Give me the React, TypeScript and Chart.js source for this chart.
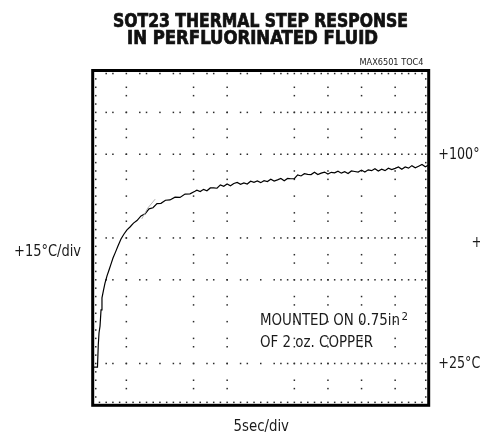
import React, { useEffect, useRef } from "react";
import { Chart, registerables } from "chart.js";

Chart.register(...registerables);

// ---------- data (seconds, °C) ----------
const timeSec = [
  0.12, 0.71, 0.83, 0.94, 1.09, 1.24, 1.38, 1.61, 1.83, 2.13, 2.43, 2.72, 3.02, 3.39, 3.76,
  4.21, 4.66, 5.1, 5.55, 6.07, 6.59, 7.19, 7.78, 8.38, 8.97, 9.57, 10.16, 10.83, 11.5, 12.25,
  12.99, 13.74, 14.48, 15.22,
  15.5, 16, 16.5, 17, 17.5, 18, 18.5, 19, 19.5, 20, 20.5, 21, 21.5, 22, 22.5, 23, 23.5, 24,
  24.5, 25, 25.5, 26, 26.5, 27, 27.5, 28, 28.5, 29, 29.5, 30, 30.5, 31, 31.5, 32, 32.5, 33,
  33.5, 34, 34.5, 35, 35.5, 36, 36.5, 37, 37.5, 38, 38.5, 39, 39.5, 40, 40.5, 41, 41.5, 42,
  42.5, 43, 43.5, 44, 44.5, 45, 45.5, 46, 46.5, 47, 47.5, 48, 48.5, 49, 49.5, 50,
];
const tempC = [
  23.7, 23.7, 31.6, 35.9, 38.4, 44.2, 48.5, 51.3, 53.8, 56.4, 58.5, 60.6, 62.8, 64.9, 67.1,
  69.6, 71.4, 72.9, 73.9, 75.3, 76.2, 77.9, 78.6, 80.4, 80.8, 82.3, 82.4, 83.5, 83.6, 84.6,
  84.5, 85.7, 85.8, 86.7,
  87.1, 86.6, 87.4, 86.9, 87.9, 87.9, 87.8, 89.0, 88.5, 89.3, 88.7, 89.5, 89.9, 89.2, 89.7,
  89.3, 90.3, 89.9, 90.4, 89.8, 90.5, 90.2, 91.0, 90.4, 90.8, 91.3, 90.5, 91.3, 91.2, 91.2,
  92.6, 92.2, 93.0, 92.8, 92.7, 93.5, 92.7, 93.2, 93.6, 92.9, 93.5, 93.3, 93.9, 93.2, 93.7,
  93.1, 94.0, 93.8, 93.6, 94.3, 93.6, 94.4, 94.1, 94.8, 94.0, 94.6, 94.1, 95.0, 94.5, 94.9,
  95.4, 94.6, 95.4, 95.0, 95.9, 95.1, 95.7, 96.3, 95.5, 96.1,
];
const ghostTimeSec = [7.3, 8.2, 9.3];
const ghostTempC = [76.8, 80.7, 83.9];

const xDivisions = [0, 5, 10, 15, 20, 25, 30, 35, 40, 45, 50];
const yDivisions = [10, 25, 40, 55, 70, 85, 100, 115, 130];
const hiddenXGrid = [10, 25];
const hiddenYGrid = [40, 85];

const titleLines = ["SOT23 THERMAL STEP RESPONSE", "IN PERFLUORINATED FLUID"];
const tocLabel = "MAX6501 TOC4";
const yScaleLabel = "+15°C/div";
const xScaleLabel = "5sec/div";
const rightLabelTexts = ["+100°C", "+25°C", "+70°C"];
const rightLabelValues = [100, 25, 70];
const noteLine1 = "MOUNTED ON 0.75in";
const noteSup = "2";
const noteLine2 = "OF 2 oz. COPPER";

const FONT =
  "'Liberation Sans Narrow', 'Arial Narrow', 'DejaVu Sans Condensed', 'Liberation Sans', sans-serif";

function fitText(
  ctx: CanvasRenderingContext2D,
  text: string,
  x: number,
  baseline: number,
  width: number,
  size: number,
  weight: string,
  align: "left" | "center" | "right",
  stroke = 0
): number {
  ctx.save();
  ctx.font = `${weight} ${size}px ${FONT}`;
  const w = ctx.measureText(text).width;
  const sx = width / w;
  const left = align === "left" ? x : align === "center" ? x - width / 2 : x - width;
  ctx.translate(left, baseline);
  ctx.scale(sx, 1);
  ctx.textAlign = "left";
  ctx.textBaseline = "alphabetic";
  ctx.fillText(text, 0, 0);
  if (stroke) {
    ctx.lineWidth = stroke;
    ctx.strokeText(text, 0, 0);
  }
  ctx.restore();
  return sx;
}

const scopePlugin = {
  id: "scope",
  beforeDatasetsDraw(chart: any) {
    const { ctx, chartArea, scales } = chart;
    const { left, right, top, bottom } = chartArea;
    const xs = scales.x;
    const ys = scales.y;
    ctx.save();
    ctx.fillStyle = "#2a2a2a";
    const dot = (px: number, py: number) => ctx.fillRect(px - 0.7, py - 0.7, 1.5, 1.5);
    const xMin = xDivisions[0];
    const xMax = xDivisions[xDivisions.length - 1];
    const yMin = yDivisions[0];
    const yMax = yDivisions[yDivisions.length - 1];
    const xMinor = (xDivisions[1] - xDivisions[0]) / 5;
    const yMinor = (yDivisions[1] - yDivisions[0]) / 5;
    const nx = Math.round((xMax - xMin) / xMinor);
    const ny = Math.round((yMax - yMin) / yMinor);
    const rowPattern = (m: number) => m % 5 === 0 || m % 5 === 2 || m % 5 === 3 || m >= 29;
    // horizontal dotted rows
    yDivisions.slice(1, -1).forEach((v) => {
      if (hiddenYGrid.includes(v)) return;
      const py = ys.getPixelForValue(v);
      for (let m = 1; m < nx; m++) {
        if (rowPattern(m)) dot(xs.getPixelForValue(xMin + m * xMinor), py);
      }
    });
    // vertical dotted columns
    xDivisions.slice(1, -1).forEach((v) => {
      if (hiddenXGrid.includes(v)) return;
      const px = xs.getPixelForValue(v);
      for (let m = 1; m < ny; m++) {
        if (m % 5 === 0 || m % 5 === 2 || m % 5 === 3) dot(px, ys.getPixelForValue(yMin + m * yMinor));
      }
    });
    // border tick rows
    for (let m = 1; m < nx; m++) {
      const px = xs.getPixelForValue(xMin + m * xMinor);
      if (rowPattern(m)) dot(px, top + 3);
      dot(px, bottom - 3);
    }
    for (let m = 1; m < ny; m++) {
      const py = ys.getPixelForValue(yMin + m * yMinor);
      dot(left + 3, py);
      dot(right - 3, py);
    }
    ctx.restore();
  },
  afterDatasetsDraw(chart: any) {
    const { ctx, chartArea } = chart;
    const { left, right, top, bottom } = chartArea;
    ctx.save();
    ctx.strokeStyle = "#000";
    ctx.lineWidth = 3;
    ctx.strokeRect(left, top, right - left, bottom - top);
    ctx.restore();
  },
  afterDraw(chart: any) {
    const { ctx, scales } = chart;
    const ys = scales.y;
    ctx.save();
    ctx.fillStyle = "#111";
    ctx.strokeStyle = "#111";
    // title
    fitText(ctx, titleLines[0], 260.5, 27.3, 295, 19.5, "bold", "center", 0.7);
    fitText(ctx, titleLines[1], 252.5, 43.8, 251, 19.5, "bold", "center", 0.7);
    ctx.fillStyle = "#222";
    fitText(ctx, tocLabel, 423.5, 65.3, 64, 9.5, "normal", "right");
    // axis labels
    ctx.fillStyle = "#1a1a1a";
    fitText(ctx, yScaleLabel, 14, 255.5, 67, 16, "normal", "left");
    fitText(ctx, xScaleLabel, 233.5, 431, 55.5, 16, "normal", "left");
    // right-hand labels (clipped by the canvas edge)
    ctx.font = `normal 16px ${FONT}`;
    const sx = 42 / ctx.measureText(rightLabelTexts[1]).width;
    rightLabelTexts.forEach((t, i) => {
      const py = ys.getPixelForValue(rightLabelValues[i]);
      const x0 = i === 2 ? 471.5 : 438.3;
      const base = i === 2 ? py + 9.5 : py + 4.8;
      ctx.save();
      ctx.translate(x0, base);
      ctx.scale(sx, 1);
      ctx.textAlign = "left";
      ctx.textBaseline = "alphabetic";
      ctx.fillText(t, 0, 0);
      ctx.restore();
    });
    // annotation
    fitText(ctx, noteLine1, 260, 325.3, 140, 16.5, "normal", "left");
    fitText(ctx, noteSup, 401.5, 319.8, 6.5, 11, "normal", "left");
    fitText(ctx, noteLine2, 260, 346.8, 113, 16.5, "normal", "left");
    ctx.restore();
  },
};

export default function App() {
  const canvasRef = useRef<HTMLCanvasElement | null>(null);

  useEffect(() => {
    const canvas = canvasRef.current;
    if (!canvas) return;
    const chart = new Chart(canvas, {
      type: "line",
      data: {
        datasets: [
          {
            data: ghostTimeSec.map((t, i) => ({ x: t, y: ghostTempC[i] })),
            borderColor: "#b5b5b5",
            borderWidth: 1,
            pointRadius: 0,
            tension: 0,
          },
          {
            data: timeSec.map((t, i) => ({ x: t, y: tempC[i] })),
            borderColor: "#000",
            borderWidth: 1.2,
            pointRadius: 0,
            tension: 0,
          },
        ],
      },
      options: {
        responsive: false,
        animation: false,
        devicePixelRatio: 1,
        events: [],
        layout: { padding: { left: 92.7, right: 51.3, top: 70.5, bottom: 31.7 } },
        scales: {
          x: { type: "linear", min: xDivisions[0], max: xDivisions[xDivisions.length - 1], display: false },
          y: { type: "linear", min: yDivisions[0], max: yDivisions[yDivisions.length - 1], display: false },
        },
        plugins: { legend: { display: false }, tooltip: { enabled: false }, title: { display: false } },
      },
      plugins: [scopePlugin],
    } as any);
    return () => chart.destroy();
  }, []);

  return (
    <div style={{ position: "absolute", left: 0, top: 0, width: 480, height: 437, background: "#fff" }}>
      <canvas ref={canvasRef} width={480} height={437} style={{ display: "block", width: 480, height: 437 }} />
    </div>
  );
}
